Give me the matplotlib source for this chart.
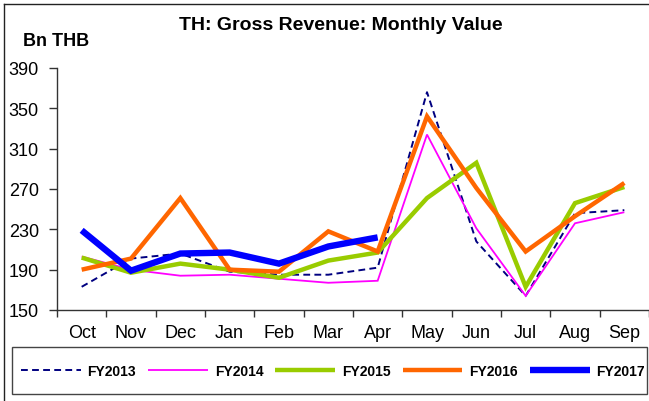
import matplotlib
matplotlib.use("Agg")
import matplotlib.pyplot as plt
from matplotlib.lines import Line2D
from matplotlib.patches import Rectangle

plt.rcParams["font.family"] = ["Liberation Sans", "DejaVu Sans"]

months = ["Oct", "Nov", "Dec", "Jan", "Feb", "Mar", "Apr", "May", "Jun", "Jul", "Aug", "Sep"]
yticks = [150, 190, 230, 270, 310, 350, 390]

fy2013 = [173, 201, 206, 188, 185, 185, 192, 366, 218, 164, 246, 249]
fy2014 = [203, 190, 184, 185, 181, 177, 179, 324, 231, 164, 236, 247]
fy2015 = [202, 187, 196, 190, 182, 199, 207, 261, 296, 173, 256, 272]
fy2016 = [190, 201, 261, 190, 188, 228, 208, 342, 271, 208, 243, 276]
fy2017 = [229, 189, 206, 207, 196, 213, 222]

series = [
    ("FY2013", fy2013, dict(color="#000080", lw=1.4, ls=(0, (3.5, 2.2)))),
    ("FY2014", fy2014, dict(color="#FF00FF", lw=1.3)),
    ("FY2015", fy2015, dict(color="#99CC00", lw=3.2)),
    ("FY2016", fy2016, dict(color="#FF6600", lw=3.2)),
    ("FY2017", fy2017, dict(color="#0000FF", lw=4.6)),
]

W, H = 649, 402
fig = plt.figure(figsize=(W / 100, H / 100), dpi=100)
ax = fig.add_axes([57 / W, 1 - 311 / H, (W - 57) / W, (311 - 69) / H])

for name, vals, style in series:
    ax.plot(range(len(vals)), vals, label=name, solid_capstyle="butt",
            solid_joinstyle="miter", **style)

ax.set_xlim(-0.5, 11.5)
ax.set_ylim(150, 390)
ax.set_yticks(yticks)
ax.set_yticklabels([str(v) for v in yticks], fontsize=13)
ax.set_xticks(range(len(months)))
ax.set_xticklabels(months, fontsize=13)
ax.set_xticks([i + 0.5 for i in range(-1, 12)], minor=True)
ax.tick_params(axis="x", which="major", length=0, pad=10)
ax.tick_params(axis="x", which="minor", length=5, width=1, color="#333333")
ax.tick_params(axis="y", length=6, width=1, color="#333333", pad=7)
for side in ("top", "right"):
    ax.spines[side].set_visible(False)
for side in ("left", "bottom"):
    ax.spines[side].set_color("#333333")
    ax.spines[side].set_linewidth(1)

fig.text(341 / W, 1 - 25 / H, "TH: Gross Revenue: Monthly Value",
         ha="center", va="center", fontsize=14, fontweight="bold")
fig.text(23 / W, 1 - 41 / H, "Bn THB", ha="left", va="center",
         fontsize=13, fontweight="bold")

# outer frame on the left and top edges
fig.add_artist(Line2D([4 / W, 4 / W], [0, 1 - 5 / H], color="#222222", lw=1,
                      transform=fig.transFigure))
fig.add_artist(Line2D([4 / W, 1], [1 - 5 / H, 1 - 5 / H], color="#222222", lw=1,
                      transform=fig.transFigure))

# legend box
fig.add_artist(Rectangle((12 / W, 1 - 395 / H), (647 - 12) / W, (395 - 348) / H,
                         transform=fig.transFigure, fill=False,
                         edgecolor="#444444", lw=1))
fig.legend(loc="center", bbox_to_anchor=(333 / W, 1 - 372 / H), ncol=5,
           frameon=False, prop=dict(size=10, weight="bold"),
           handlelength=4.3, handletextpad=0.5, columnspacing=0.86)

fig.savefig("out.png", dpi=100)
